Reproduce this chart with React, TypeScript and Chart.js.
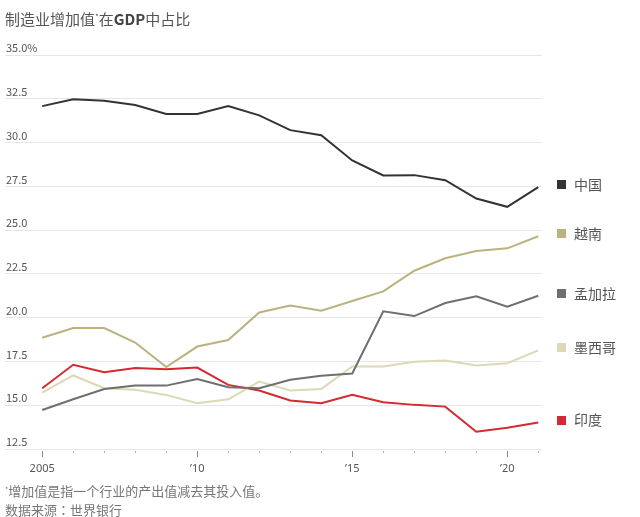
import React, { useEffect, useRef } from "react";
import { Chart, registerables } from "chart.js";

Chart.register(...registerables);

const years = [2005, 2006, 2007, 2008, 2009, 2010, 2011, 2012, 2013, 2014, 2015, 2016, 2017, 2018, 2019, 2020, 2021];
const china = [32.08, 32.47, 32.39, 32.14, 31.63, 31.63, 32.08, 31.55, 30.71, 30.42, 28.98, 28.12, 28.14, 27.85, 26.8, 26.33, 27.45];
const vietnam = [18.85, 19.41, 19.41, 18.58, 17.18, 18.35, 18.72, 20.3, 20.7, 20.4, 20.95, 21.5, 22.68, 23.39, 23.81, 23.96, 24.65];
const bangladesh = [14.73, 15.34, 15.93, 16.12, 16.12, 16.49, 16.03, 15.97, 16.45, 16.68, 16.81, 20.36, 20.09, 20.84, 21.22, 20.62, 21.25];
const mexico = [15.72, 16.7, 15.97, 15.88, 15.59, 15.11, 15.34, 16.35, 15.84, 15.92, 17.21, 17.21, 17.48, 17.55, 17.27, 17.4, 18.13];
const india = [15.97, 17.31, 16.89, 17.12, 17.06, 17.15, 16.16, 15.84, 15.27, 15.11, 15.59, 15.17, 15.02, 14.92, 13.49, 13.72, 14.01];

const seriesNames = ["中国", "越南", "孟加拉", "墨西哥", "印度"];
const seriesValues = [china, vietnam, bangladesh, mexico, india];
const seriesColors = ["#333333", "#bab37d", "#6f6f6f", "#ddd8b5", "#d42a31"];

const yTicks = [12.5, 15, 17.5, 20, 22.5, 25, 27.5, 30, 32.5, 35];
const labeledYears = [2005, 2010, 2015, 2020];

const FONT = '"Noto Sans CJK SC", "Noto Sans", sans-serif';
const LATIN = '"Noto Sans", "DejaVu Sans", sans-serif';

const sideLabels = {
  id: "sideLabels",
  afterDraw(chart: any) {
    const ctx = chart.ctx;
    const y = chart.scales.y;
    const x = chart.scales.x;
    ctx.save();
    const base = chart.chartArea.bottom;
    years.forEach((yr) => {
      const px = Math.round(x.getPixelForValue(yr)) + 0.5;
      const major = labeledYears.includes(yr);
      ctx.strokeStyle = major ? "#8a8a8a" : "#b0b0b0";
      ctx.lineWidth = 1;
      ctx.beginPath();
      ctx.moveTo(px, base + 2);
      ctx.lineTo(px, base + (major ? 8 : 4));
      ctx.stroke();
    });
    ctx.font = `14px ${FONT}`;
    ctx.textBaseline = "middle";
    ctx.textAlign = "left";
    seriesValues.forEach((vals, i) => {
      const py = y.getPixelForValue(vals[vals.length - 1]) - 2.5;
      ctx.fillStyle = seriesColors[i];
      ctx.fillRect(557, Math.round(py - 4.5), 9, 9);
      ctx.fillStyle = "#555555";
      ctx.fillText(seriesNames[i], 574, py);
    });
    ctx.restore();
  },
};

function ChartView() {
  const ref = useRef<HTMLCanvasElement | null>(null);
  useEffect(() => {
    if (!ref.current) return;
    const chart = new Chart(ref.current, {
      type: "line",
      data: {
        datasets: seriesValues.map((vals, i) => ({
          label: seriesNames[i],
          data: vals.map((v, j) => ({ x: years[j], y: v })),
          borderColor: seriesColors[i],
          backgroundColor: seriesColors[i],
          borderWidth: 2,
          pointRadius: 0,
          tension: 0,
          fill: false,
        })),
      },
      options: {
        responsive: false,
        animation: false,
        events: [],
        layout: { padding: { left: 5, right: 98, top: 55, bottom: 38 } },
        plugins: { legend: { display: false }, tooltip: { enabled: false }, title: { display: false } },
        scales: {
          x: {
            type: "linear",
            min: 2003.8,
            max: 2021.12,
            afterBuildTicks: (s: any) => {
              s.ticks = years.map((v) => ({ value: v }));
            },
            afterFit: (s: any) => {
              s.height = 30;
            },
            grid: { display: false, drawTicks: false },
            border: { display: false },
            ticks: {
              autoSkip: false,
              maxRotation: 0,
              padding: 13,
              color: "#555555",
              font: { family: LATIN, size: 11 },
              callback: (v: any) => {
                const n = Number(v);
                if (n === 2005) return "2005";
                if (labeledYears.includes(n)) return "\u2019" + String(n).slice(2);
                return "";
              },
            },
          },
          y: {
            min: 12.5,
            max: 35,
            afterBuildTicks: (s: any) => {
              s.ticks = yTicks.map((v) => ({ value: v }));
            },
            afterFit: (s: any) => {
              s.width = 0;
            },
            grid: { color: "#e6e6e6", lineWidth: 1, drawTicks: false },
            border: { display: false },
            ticks: {
              mirror: true,
              padding: 1,
              labelOffset: -7,
              color: "#555555",
              font: { family: FONT, size: 11 },
              callback: (v: any) => {
                const n = Number(v);
                return n === 35 ? "35.0%" : n.toFixed(1);
              },
            },
          },
        },
      },
      plugins: [sideLabels],
    });
    return () => chart.destroy();
  }, []);
  return <canvas ref={ref} width={640} height={517} style={{ position: "absolute", left: 0, top: 0, width: 640, height: 517 }} />;
}

export default function App() {
  return (
    <div style={{ position: "fixed", left: 0, top: 0, width: 640, height: 517, background: "#fff", fontFamily: FONT, overflow: "hidden" }}>
      <ChartView />
      <div style={{ position: "absolute", left: 5, top: 9, fontSize: 15, lineHeight: "20px", color: "#555", whiteSpace: "nowrap" }}>
        制造业增加值<sup style={{ fontSize: 8, verticalAlign: "top", position: "relative", top: -2 }}>*</sup>在<b style={{ fontWeight: 700, color: "#444" }}>GDP</b>中占比
      </div>
      <div style={{ position: "absolute", left: 5, top: 481, fontSize: 13, lineHeight: "19px", color: "#777", whiteSpace: "nowrap" }}>
        <div>
          <sup style={{ fontSize: 7, verticalAlign: "top", position: "relative", top: -1 }}>*</sup>增加值是指一个行业的产出值减去其投入值。
        </div>
        <div>
          数据来源<span style={{ fontFamily: '"Noto Sans CJK TC", "Noto Sans CJK SC", sans-serif' }}>：</span>世界银行
        </div>
      </div>
    </div>
  );
}
